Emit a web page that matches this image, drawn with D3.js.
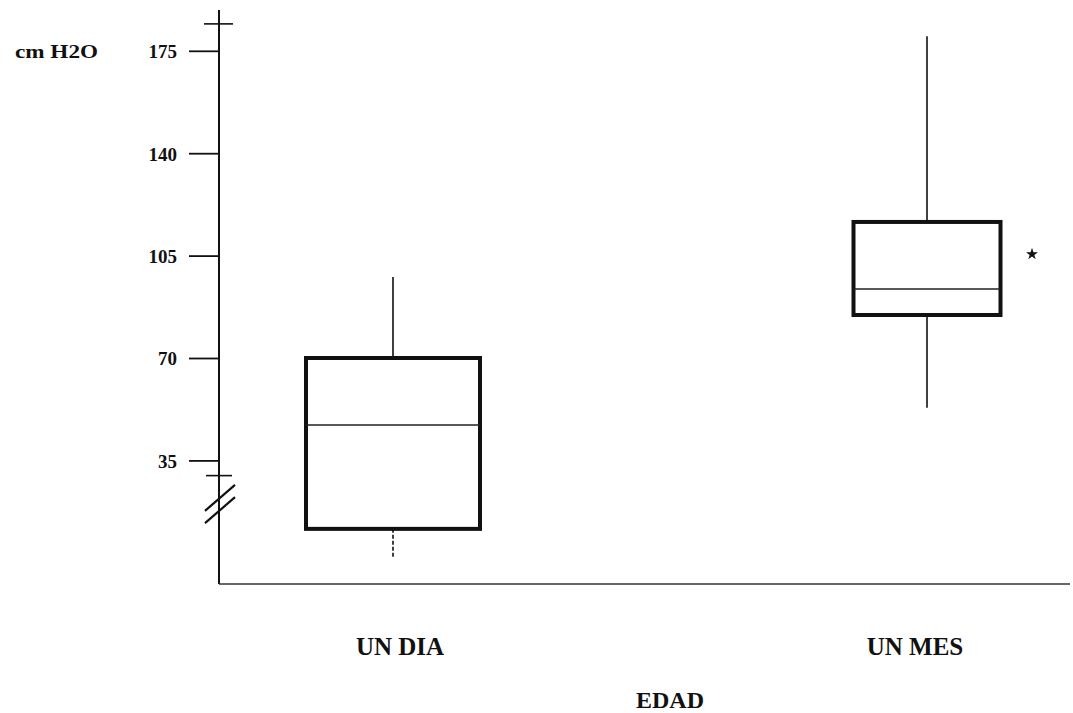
<!DOCTYPE html>
<html>
<head>
<meta charset="utf-8">
<script src="https://d3js.org/d3.v7.min.js"></script>
<style>
  body { margin: 0; background: #fff; }
  svg { display: block; font-family: "Liberation Serif", "Times New Roman", serif; font-weight: bold; }
</style>
</head>
<body>
<div id="chart"></div>
<script>
// data (cm H2O)
var groups = ["UN DIA", "UN MES"];
var whiskerLow = [2, 53];
var q1 = [11.6, 84.7];
var medians = [47.1, 93.6];
var q3 = [70, 116.5];
var whiskerHigh = [97.7, 180];
var outliers = [{ group: "UN MES", value: 105.5 }];
var yTicks = [35, 70, 105, 140, 175];

var dim = { width: 1073, height: 713 };
var axisX = 219, axisTop = 10, axisBottom = 584, axisRight = 1070;
var boxWidth = [174, 147];
var lowerDash = ["4,2", null];

var x = d3.scalePoint()
    .domain(groups)
    .range([393, 927]);
var y = d3.scaleLinear()
    .domain([35, 175])
    .range([460.4, 50.8]);

var svg = d3.select("#chart").append("svg")
    .attr("width", dim.width)
    .attr("height", dim.height);
svg.append("rect")
    .attr("width", dim.width)
    .attr("height", dim.height)
    .attr("fill", "#fff");

// y axis
var yAxis = d3.axisLeft(y)
    .tickValues(yTicks)
    .tickSize(30)
    .tickPadding(12);
var gy = svg.append("g")
    .attr("class", "y axis")
    .attr("transform", "translate(" + axisX + ",0)")
    .call(yAxis)
    .attr("font-family", "Liberation Serif, serif")
    .attr("font-size", 19)
    .attr("font-weight", "bold");
gy.select(".domain").remove();
gy.selectAll(".tick line").attr("stroke", "#111").attr("stroke-width", 1.8);
gy.selectAll(".tick text").attr("fill", "#111").attr("dy", "0.36em");

svg.append("line")
    .attr("x1", axisX).attr("x2", axisX)
    .attr("y1", axisTop).attr("y2", axisBottom)
    .attr("stroke", "#111").attr("stroke-width", 2);

// small cross ticks at the top and below 35
[184.2, 29.8].forEach(function(v, i) {
  svg.append("line")
      .attr("x1", axisX - (i ? 13 : 15)).attr("x2", axisX + (i ? 13 : 14))
      .attr("y1", y(v)).attr("y2", y(v))
      .attr("stroke", "#111").attr("stroke-width", 1.6);
});

// axis break marks
[18, 22.2].forEach(function(v) {
  var cy = y(v);
  svg.append("line")
      .attr("x1", axisX - 14).attr("y1", cy + 13)
      .attr("x2", axisX + 16).attr("y2", cy - 13)
      .attr("stroke", "#111").attr("stroke-width", 2.2);
});

// x axis line
svg.append("line")
    .attr("x1", axisX).attr("x2", axisRight)
    .attr("y1", axisBottom).attr("y2", axisBottom)
    .attr("stroke", "#333").attr("stroke-width", 1.3);

svg.append("text")
    .attr("x", 15).attr("y", 58)
    .attr("font-size", 19)
    .attr("textLength", 83)
    .attr("lengthAdjust", "spacingAndGlyphs")
    .attr("fill", "#111")
    .text("cm H2O");

// boxes
var boxes = svg.append("g").attr("class", "boxes")
  .selectAll("g").data(groups).enter()
  .append("g");

boxes.append("line")
    .attr("x1", function(d) { return x(d); })
    .attr("x2", function(d) { return x(d); })
    .attr("y1", function(d, i) { return y(q3[i]); })
    .attr("y2", function(d, i) { return y(whiskerHigh[i]); })
    .attr("stroke", "#111").attr("stroke-width", 1.6);
boxes.append("line")
    .attr("x1", function(d) { return x(d); })
    .attr("x2", function(d) { return x(d); })
    .attr("y1", function(d, i) { return y(q1[i]); })
    .attr("y2", function(d, i) { return y(whiskerLow[i]); })
    .attr("stroke", "#111").attr("stroke-width", 1.6)
    .attr("stroke-dasharray", function(d, i) { return lowerDash[i]; });
boxes.append("rect")
    .attr("x", function(d, i) { return x(d) - boxWidth[i] / 2; })
    .attr("width", function(d, i) { return boxWidth[i]; })
    .attr("y", function(d, i) { return y(q3[i]); })
    .attr("height", function(d, i) { return y(q1[i]) - y(q3[i]); })
    .attr("fill", "#fff")
    .attr("stroke", "#111").attr("stroke-width", 4);
boxes.append("line")
    .attr("x1", function(d, i) { return x(d) - boxWidth[i] / 2; })
    .attr("x2", function(d, i) { return x(d) + boxWidth[i] / 2; })
    .attr("y1", function(d, i) { return y(medians[i]); })
    .attr("y2", function(d, i) { return y(medians[i]); })
    .attr("stroke", "#222").attr("stroke-width", 1.4);

svg.append("g").selectAll("path").data(outliers).enter()
  .append("path")
    .attr("d", d3.symbol().type(d3.symbolStar).size(45))
    .attr("transform", function(d) { return "translate(" + (x(d.group) + 105) + "," + y(d.value) + ")"; })
    .attr("fill", "#111");

// category labels
var labelDx = [7, -12];
svg.append("g").selectAll("text").data(groups).enter()
  .append("text")
    .attr("x", function(d, i) { return x(d) + labelDx[i]; })
    .attr("y", 655)
    .attr("text-anchor", "middle")
    .attr("font-size", 25)
    .attr("fill", "#111")
    .text(function(d) { return d; });

svg.append("text")
    .attr("x", 670).attr("y", 708)
    .attr("text-anchor", "middle")
    .attr("font-size", 24)
    .attr("fill", "#111")
    .text("EDAD");
</script>
</body>
</html>
